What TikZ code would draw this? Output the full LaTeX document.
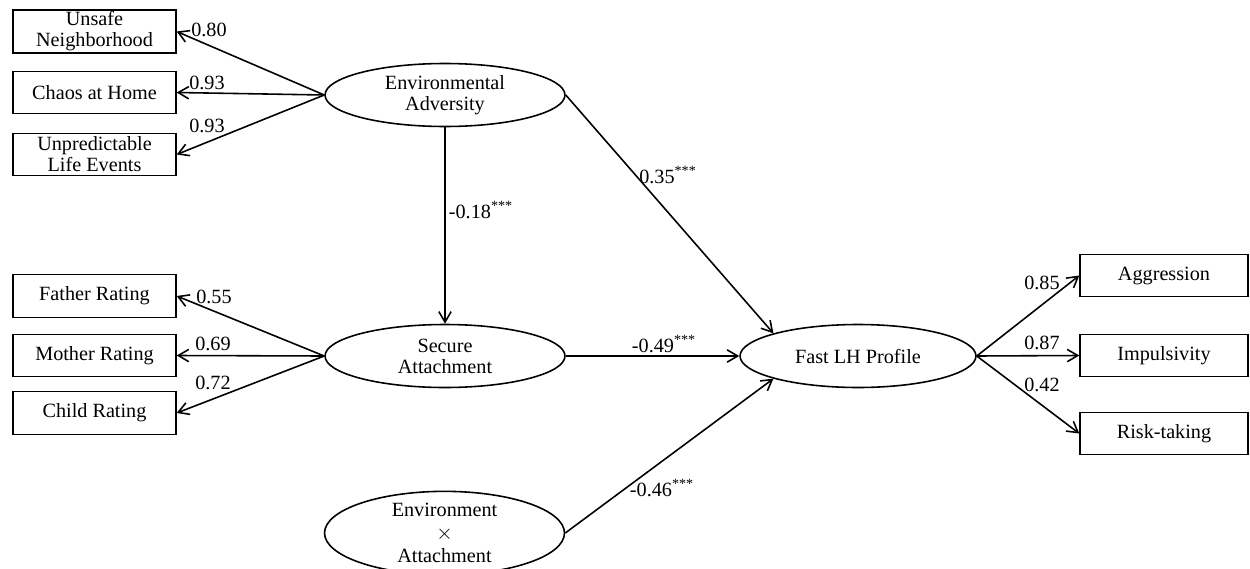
\documentclass[tikz,border=0pt]{standalone}
\usepackage{fontspec}
\setmainfont{Liberation Serif}
\usetikzlibrary{shapes.geometric,arrows.meta}

\begin{document}
\begin{tikzpicture}[x=0.02cm, y=-0.02cm,
    every node/.style={font=\fontsize{11.5}{11.9}\selectfont},
    box/.style={draw, line width=0.8pt, minimum width=3.26cm, minimum height=0.85cm, inner sep=1pt, align=center},
    latent/.style={draw, ellipse, line width=0.9pt, minimum width=4.8cm, minimum height=1.26cm, inner sep=0pt, align=center},
    path/.style={line width=0.9pt, -{Straight Barb[length=6pt, width=7pt]}},
    coef/.style={inner sep=0pt}]
    \useasboundingbox (0,0) rectangle (1250,568);

    \node[latent] (adv) at (445,95) {Environmental\\Adversity};
    \node[latent] (secure) at (445,356) {Secure\\Attachment};
    \node[latent] (inter) at (444.5,533) {Environment\\[1pt]$\times$\\[1pt]Attachment};
    \node[latent, minimum width=4.72cm] (fast) at (858,356) {Fast LH Profile};

    \node[box] (unsafe) at (94.5,31.5) {Unsafe\\Neighborhood};
    \node[box] (chaos) at (94.5,92.5) {Chaos at Home};
    \node[box] (unpred) at (94.5,154.5) {Unpredictable\\Life Events};
    \node[box] (father) at (94.5,296) {Father Rating};
    \node[box] (mother) at (94.5,355.5) {Mother Rating};
    \node[box] (child) at (94.5,413) {Child Rating};
    \node[box, minimum width=3.36cm] (aggr) at (1164,275.5) {Aggression};
    \node[box, minimum width=3.36cm] (impul) at (1164,355.5) {Impulsivity};
    \node[box, minimum width=3.36cm] (risk) at (1164,433.5) {Risk-taking};

    \draw[path] (adv.west) -- (unsafe.east);
    \draw[path] (adv.west) -- (chaos.east);
    \draw[path] (adv.west) -- (unpred.east);
    \draw[path] (secure.west) -- (father.east);
    \draw[path] (secure.west) -- (mother.east);
    \draw[path] (secure.west) -- (child.east);
    \draw[path] (fast.east) -- (aggr.west);
    \draw[path] (fast.east) -- (impul.west);
    \draw[path] (fast.east) -- (risk.west);

    \draw[path] (adv.south) -- (secure.north);
    \draw[path] (adv.east) -- (fast.165);
    \draw[path] (secure.east) -- (fast.west);
    \draw[path] (inter.east) -- (fast.195);

    \node[coef] (c80) at (209,30) {0.80};
    \node[coef] (c93a) at (207,83) {0.93};
    \node[coef] (c93b) at (207,126) {0.93};
    \node[coef] (c55) at (214,297) {0.55};
    \node[coef] (c69) at (213,344) {0.69};
    \node[coef] (c72) at (213,383) {0.72};
    \node[coef] (c85) at (1042,283) {0.85};
    \node[coef] (c87) at (1042,343) {0.87};
    \node[coef] (c42) at (1042,385) {0.42};
    \node[coef] (c18) at (481,210) {-0.18\textsuperscript{***}};
    \node[coef] (c35) at (668,175) {0.35\textsuperscript{***}};
    \node[coef] (c49) at (664,344) {-0.49\textsuperscript{***}};
    \node[coef] (c46) at (662,488) {-0.46\textsuperscript{***}};
\end{tikzpicture}
\end{document}
